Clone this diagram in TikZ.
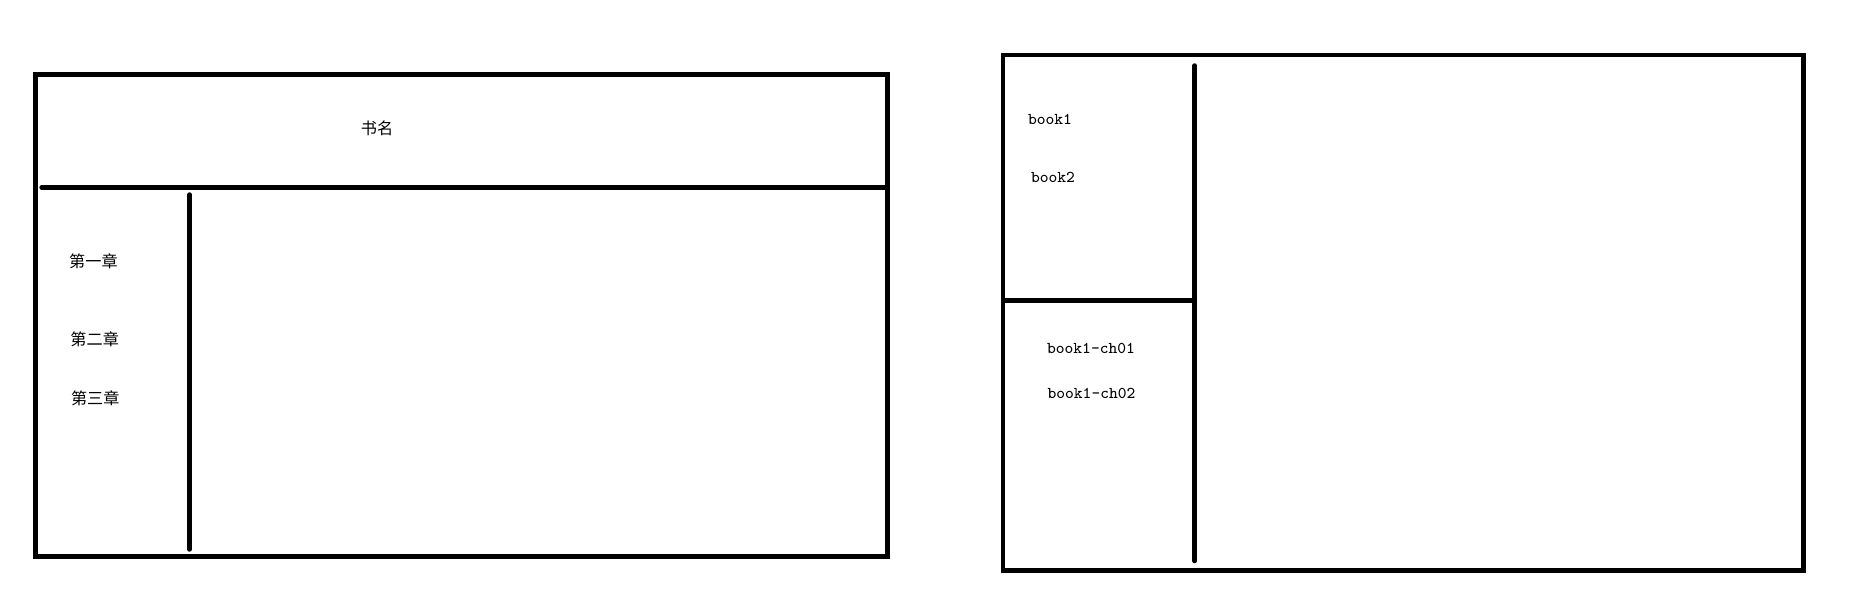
\documentclass[tikz,border=0pt]{standalone}
\usepackage{fontspec}
\newfontfamily\cjk{Noto Sans CJK SC}
\begin{document}
\begin{tikzpicture}[x=1cm,y=1cm,line cap=round,line join=miter,
    frame/.style={line width=1.33pt,line cap=rect},
    rule/.style={line width=1.33pt,line cap=round},
    zh/.style={font=\cjk\fontsize{4.6pt}{5.5pt}\selectfont,inner sep=0pt},
    en/.style={font=\ttfamily\fontsize{4.7pt}{5.6pt}\selectfont,inner sep=0pt}]
  \useasboundingbox (0,0) rectangle (18.49,6.11);
  % left page: title strip on top, chapter list on the side
  \draw[frame] (0.357,0.547) rectangle (8.875,5.363);
  \draw[rule] (0.417,4.235) -- (8.875,4.235);
  \draw[rule] (1.895,4.164) -- (1.895,0.616);
  \node[zh] (title) at (3.77,4.83) {书名};
  \node[zh] (chone) at (0.935,3.50) {第一章};
  \node[zh] (chtwo) at (0.947,2.72) {第二章};
  \node[zh] (chthree) at (0.953,2.13) {第三章};
  % right page: books on top, chapters of one book below
  \draw[frame] (10.03,0.407) rectangle (18.035,5.56);
  \draw[rule] (11.947,5.454) -- (11.947,0.50);
  \draw[rule] (10.05,3.108) -- (11.947,3.108);
  \node[en] (bookone) at (10.50,4.92) {book1};
  \node[en] (booktwo) at (10.53,4.34) {book2};
  \node[en] (chzeroone) at (10.91,2.63) {book1-ch01};
  \node[en] (chzerotwo) at (10.915,2.18) {book1-ch02};
\end{tikzpicture}
\end{document}
